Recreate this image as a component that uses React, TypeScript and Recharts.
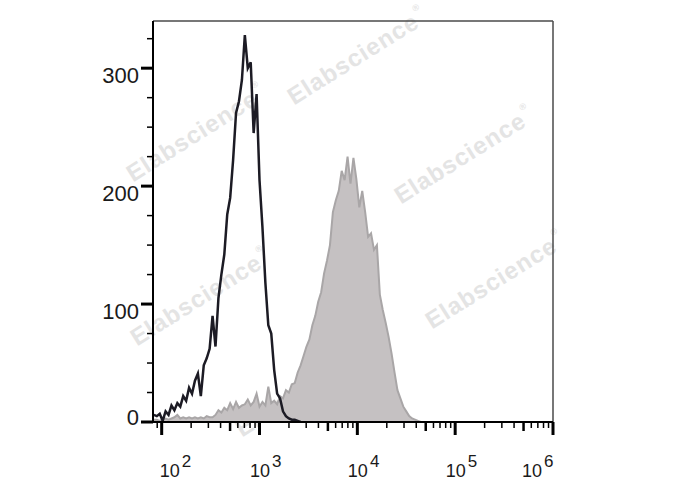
import {
  ComposedChart,
  Area,
  Line,
  XAxis,
  YAxis,
  ReferenceLine,
  Customized,
} from 'recharts';

// histogram channels: log10 of intensity, evenly spaced
const BIN_START = 1.92;
const BIN_STEP = 0.03;

// black open histogram (stained sample)
const blackCounts = [
  6, 5, 7, 1, 9, 6, 14, 10, 16, 13,
  22, 18, 29, 24, 35, 41, 22, 48, 54, 62,
  90, 64, 105, 125, 142, 176, 190, 222, 262, 272,
  290, 328, 300, 305, 245, 278, 205, 165, 118, 82,
  75, 44, 24, 20, 9, 5, 3, 2, 2, 1,
  0,
];

// gray filled histogram (control)
const grayCounts = [
  2, 2, 1, 2, 3, 2, 3, 4, 6, 3,
  4, 3, 4, 3, 4, 3, 4, 3, 5, 4,
  4, 6, 10, 8, 12, 10, 16, 11, 17, 12,
  14, 15, 19, 14, 17, 24, 13, 17, 14, 30,
  16, 18, 15, 22, 20, 27, 25, 32, 33, 42,
  48, 56, 64, 70, 82, 90, 102, 110, 126, 137,
  150, 178, 188, 196, 213, 205, 225, 202, 224, 206,
  182, 196, 178, 157, 160, 146, 150, 108, 95, 84,
  72, 58, 42, 27, 20, 13, 9, 5, 3, 2,
  1, 0,
];

const xMajorTicks = [100, 1000, 10000, 100000, 1000000];
const xMinorTicks = [
  90,
  200, 300, 400, 500, 600, 700, 800, 900,
  2000, 3000, 4000, 5000, 6000, 7000, 8000, 9000,
  20000, 30000, 40000, 50000, 60000, 70000, 80000, 90000,
  200000, 300000, 400000, 500000, 600000, 700000, 800000, 900000,
];
const yMajorTicks = [0, 100, 200, 300];
const yMinorTicks = [25, 50, 75, 125, 150, 175, 225, 250, 275, 325];

const data = grayCounts.map((g, i) => ({
  x: Math.pow(10, BIN_START + BIN_STEP * i),
  gray: g,
  black: i < blackCounts.length ? blackCounts[i] : undefined,
}));

const FONT = '"Liberation Sans", Arial, sans-serif';

const XTick = (props: any) => {
  const { x, y, payload } = props;
  const v = payload.value;
  const major = xMajorTicks.includes(v);
  const isFive = String(v).startsWith('5');
  const len = major ? 13 : isFive ? 9 : 6;
  if (!major) {
    return (
      <g>
        <line x1={x} y1={y} x2={x} y2={y + len} stroke="#000" strokeWidth={isFive ? 2.5 : 1.5} />
      </g>
    );
  }
  const exp = Math.round(Math.log10(v));
  const dx = v === 100 ? -2 : v === 1000000 ? -31 : -9.5;
  return (
    <g>
      <line x1={x} y1={y} x2={x} y2={y + len} stroke="#000" strokeWidth={3} />
      <text x={x + dx} y={y + 55} fontSize={18} fontFamily={FONT} fill="#1a1a1a">
        10
        <tspan dx={2} dy={-10} fontSize={17}>
          {exp}
        </tspan>
      </text>
    </g>
  );
};

const YTick = (props: any) => {
  const { x, y, payload } = props;
  const v = payload.value;
  const major = yMajorTicks.includes(v);
  if (!major) {
    return (
      <g>
        <line x1={x - 6} y1={y} x2={x} y2={y} stroke="#000" strokeWidth={1.5} />
      </g>
    );
  }
  return (
    <g>
      <line x1={x - 12} y1={y} x2={x} y2={y} stroke="#000" strokeWidth={3} />
      <text
        x={x - 14}
        y={v === 0 ? y + 3 : y + 14.5}
        textAnchor="end"
        fontSize={22}
        fontFamily={FONT}
        fill="#1a1a1a"
      >
        {v}
      </text>
    </g>
  );
};

const marks = [
  [357, 56],
  [464, 155],
  [495, 280],
  [196, 133],
  [200, 297],
  [305, 388],
];

const Watermarks = () => (
  <g>
    {marks.map(([cx, cy], i) => (
      <text
        key={i}
        x={cx}
        y={cy}
        textAnchor="middle"
        dominantBaseline="central"
        transform={`rotate(-32 ${cx} ${cy})`}
        fontSize={24}
        fontWeight="bold"
        letterSpacing={1}
        fontFamily={FONT}
        fill="#e4e4e4"
      >
        Elabscience
        <tspan fontSize={9} dy={-10} dx={2}>
          ®
        </tspan>
      </text>
    ))}
  </g>
);

export default function App() {
  return (
    <div style={{ position: 'absolute', left: 0, top: 0, width: 688, height: 490, background: '#fff', fontFamily: FONT }}>
      <ComposedChart width={688} height={490} data={data} margin={{ top: 21, right: 135, bottom: 8, left: 93 }}>
        <Area
          type="linear"
          dataKey="gray"
          stroke="#a9a6a7"
          strokeWidth={2}
          fill="#c5c1c2"
          fillOpacity={1}
          dot={false}
          isAnimationActive={false}
        />
        <Customized component={Watermarks} />
        <Line
          type="linear"
          dataKey="black"
          stroke="#1c1b24"
          strokeWidth={2.5}
          dot={false}
          isAnimationActive={false}
        />
        <ReferenceLine y={340} stroke="#4a4a4a" strokeWidth={1.5} />
        <ReferenceLine x={1000000} stroke="#4a4a4a" strokeWidth={1.5} />
        <XAxis
          type="number"
          dataKey="x"
          scale="log"
          domain={[81.5, 1000000]}
          allowDataOverflow
          ticks={[...xMinorTicks, ...xMajorTicks]}
          interval={0}
          tick={XTick}
          tickLine={false}
          tickSize={0}
          tickMargin={0}
          axisLine={{ stroke: '#000', strokeWidth: 2 }}
          height={60}
        />
        <YAxis
          type="number"
          domain={[0, 340]}
          allowDataOverflow
          ticks={[...yMinorTicks, ...yMajorTicks]}
          interval={0}
          tick={YTick}
          tickLine={false}
          tickSize={0}
          tickMargin={0}
          axisLine={{ stroke: '#000', strokeWidth: 2 }}
          width={60}
        />
      </ComposedChart>
    </div>
  );
}
